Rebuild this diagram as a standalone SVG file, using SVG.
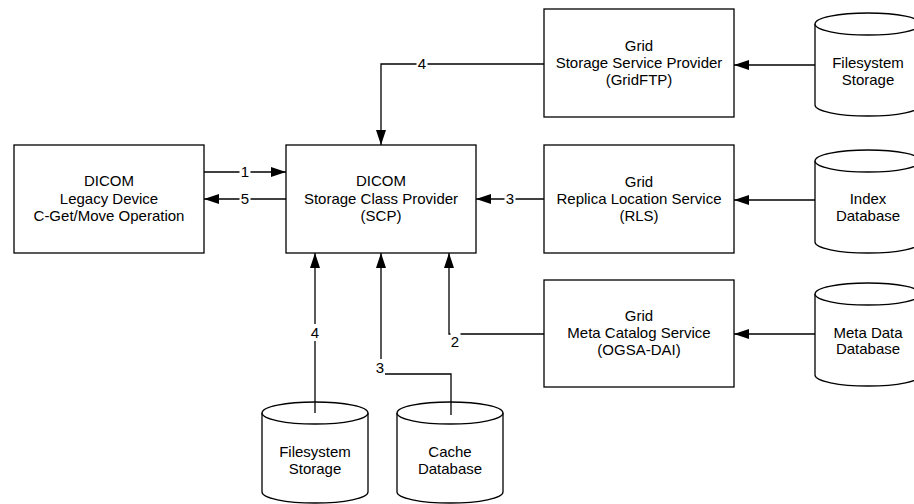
<svg xmlns="http://www.w3.org/2000/svg" width="914" height="504" viewBox="0 0 914 504">
  <style>
    .box { fill: #fff; stroke: #000; stroke-width: 1.3; }
    .cyl { fill: #fff; stroke: #000; stroke-width: 1.3; }
    .t { font-family: "Liberation Sans", Arial, sans-serif; font-size: 15px; fill: #000; text-anchor: middle; }
    .lbl { font-family: "Liberation Sans", Arial, sans-serif; font-size: 15px; fill: #000; text-anchor: middle; }
    .conn { fill: none; stroke: #000; stroke-width: 1.3; }
    .bg { fill: #fff; }
  </style>
  <defs>
    <marker id="arrow" markerUnits="userSpaceOnUse" markerWidth="15" markerHeight="10" refX="15" refY="5" orient="auto">
      <path d="M0,0 L15,5 L0,10 Z" fill="#000"/>
    </marker>
  </defs>

  <rect width="914" height="504" fill="#fff"/>

  <!-- process boxes -->
  <g id="legacy-device">
    <rect class="box" x="14" y="145" width="190" height="108"/>
    <text class="t" x="109" y="186">DICOM</text>
    <text class="t" x="109" y="204">Legacy Device</text>
    <text class="t" x="109" y="221">C-Get/Move Operation</text>
  </g>

  <g id="scp">
    <rect class="box" x="286" y="145" width="190" height="108"/>
    <text class="t" x="381" y="186">DICOM</text>
    <text class="t" x="381" y="204">Storage Class Provider</text>
    <text class="t" x="381" y="221">(SCP)</text>
  </g>

  <g id="gridftp">
    <rect class="box" x="544" y="9" width="190" height="108"/>
    <text class="t" x="639" y="51">Grid</text>
    <text class="t" x="639" y="68">Storage Service Provider</text>
    <text class="t" x="639" y="85">(GridFTP)</text>
  </g>

  <g id="rls">
    <rect class="box" x="544" y="145" width="190" height="108"/>
    <text class="t" x="639" y="187">Grid</text>
    <text class="t" x="639" y="204">Replica Location Service</text>
    <text class="t" x="639" y="221">(RLS)</text>
  </g>

  <g id="ogsa-dai">
    <rect class="box" x="544" y="280" width="190" height="107"/>
    <text class="t" x="639" y="321">Grid</text>
    <text class="t" x="639" y="338">Meta Catalog Service</text>
    <text class="t" x="639" y="355">(OGSA-DAI)</text>
  </g>

  <!-- storage cylinders -->
  <g id="filesystem-grid">
    <path class="cyl" d="M815,24 A53,11 0 0 1 921,24 V105 A53,11 0 0 1 815,105 Z"/>
    <path class="cyl" d="M815,24 A53,11 0 0 0 921,24"/>
    <text class="t" x="868" y="68">Filesystem</text>
    <text class="t" x="868" y="85">Storage</text>
  </g>

  <g id="index-db">
    <path class="cyl" d="M815,161 A53,11 0 0 1 921,161 V242 A53,11 0 0 1 815,242 Z"/>
    <path class="cyl" d="M815,161 A53,11 0 0 0 921,161"/>
    <text class="t" x="868" y="204">Index</text>
    <text class="t" x="868" y="221">Database</text>
  </g>

  <g id="metadata-db">
    <path class="cyl" d="M815,294 A53,11 0 0 1 921,294 V375 A53,11 0 0 1 815,375 Z"/>
    <path class="cyl" d="M815,294 A53,11 0 0 0 921,294"/>
    <text class="t" x="868" y="338">Meta Data</text>
    <text class="t" x="868" y="354">Database</text>
  </g>

  <g id="filesystem-local">
    <path class="cyl" d="M262,413 A53,11 0 0 1 368,413 V492 A53,11 0 0 1 262,492 Z"/>
    <path class="cyl" d="M262,413 A53,11 0 0 0 368,413"/>
    <text class="t" x="315" y="457">Filesystem</text>
    <text class="t" x="315" y="474">Storage</text>
  </g>

  <g id="cache-db">
    <path class="cyl" d="M397,413 A53,11 0 0 1 503,413 V492 A53,11 0 0 1 397,492 Z"/>
    <path class="cyl" d="M397,413 A53,11 0 0 0 503,413"/>
    <text class="t" x="450" y="457">Cache</text>
    <text class="t" x="450" y="474">Database</text>
  </g>

  <!-- connectors -->
  <g id="connectors">
    <path class="conn" d="M204,172 H286" marker-end="url(#arrow)"/>
    <path class="conn" d="M286,199 H204" marker-end="url(#arrow)"/>
    <path class="conn" d="M544,199 H476" marker-end="url(#arrow)"/>
    <path class="conn" d="M544,64 H381 V145" marker-end="url(#arrow)"/>
    <path class="conn" d="M544,334 H449 V253" marker-end="url(#arrow)"/>
    <path class="conn" d="M315,413 V253" marker-end="url(#arrow)"/>
    <path class="conn" d="M451,415 V374 H381 V253" marker-end="url(#arrow)"/>
    <path class="conn" d="M815,65 H734" marker-end="url(#arrow)"/>
    <path class="conn" d="M815,200 H734" marker-end="url(#arrow)"/>
    <path class="conn" d="M815,334 H734" marker-end="url(#arrow)"/>

    <!-- step labels -->
    <rect class="bg" x="239.5" y="164" width="11" height="16"/>
    <text class="lbl" x="245" y="177">1</text>
    <rect class="bg" x="239.5" y="191" width="11" height="16"/>
    <text class="lbl" x="245" y="204">5</text>
    <rect class="bg" x="504.5" y="191" width="11" height="16"/>
    <text class="lbl" x="510" y="204">3</text>
    <rect class="bg" x="416.5" y="56" width="11" height="16"/>
    <text class="lbl" x="422" y="69">4</text>
    <rect class="bg" x="450.5" y="330" width="10" height="18"/>
    <text class="lbl" x="455" y="347">2</text>
    <rect class="bg" x="309.5" y="324" width="11" height="17"/>
    <text class="lbl" x="315" y="338">4</text>
    <rect class="bg" x="375" y="359" width="10" height="17"/>
    <text class="lbl" x="380" y="373">3</text>
  </g>
</svg>
